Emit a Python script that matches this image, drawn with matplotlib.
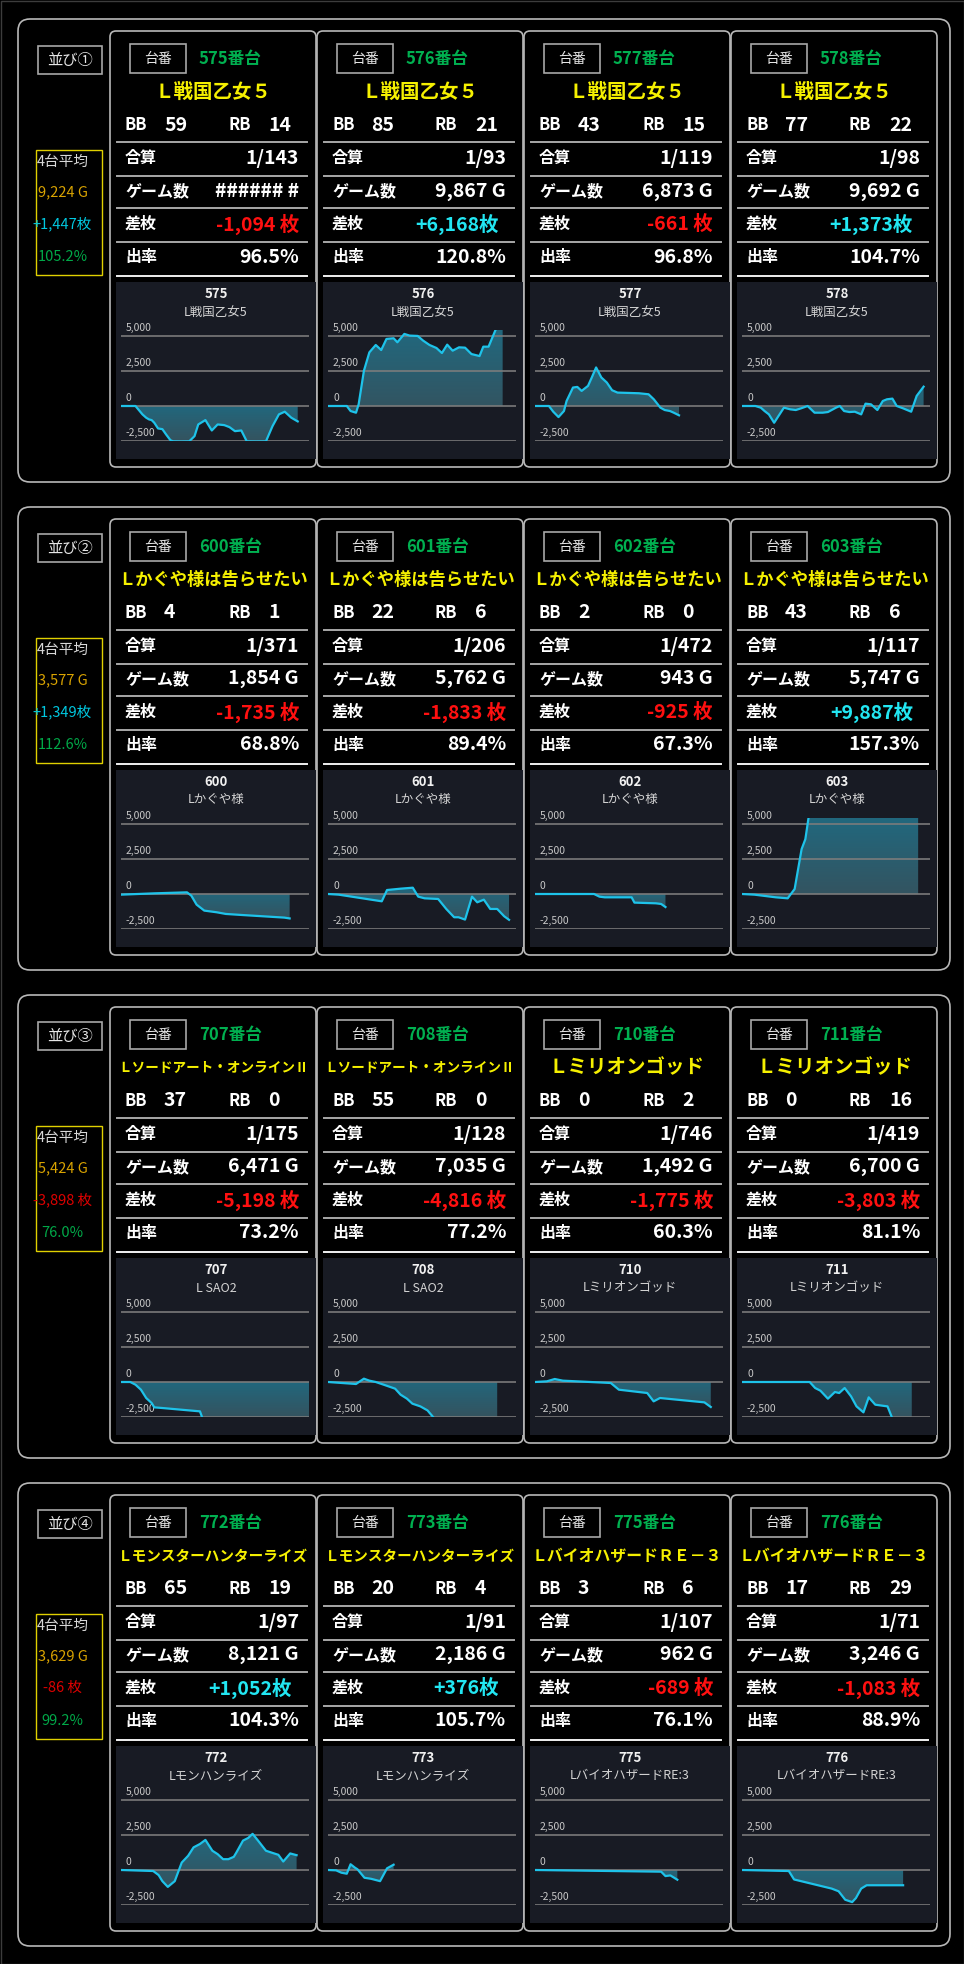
import numpy as np
import matplotlib
matplotlib.use('Agg')
import matplotlib.pyplot as plt
from matplotlib.patches import FancyBboxPatch, Rectangle, Polygon
from matplotlib.colors import LinearSegmentedColormap

plt.rcParams['font.family'] = ['Noto Sans CJK JP', 'DejaVu Sans']

# ---- data ----
group_labels = ['並び①', '並び②', '並び③', '並び④']
machine_no = [[575, 576, 577, 578], [600, 601, 602, 603],
              [707, 708, 710, 711], [772, 773, 775, 776]]
titles = [['Ｌ戦国乙女５'] * 4,
          ['Ｌかぐや様は告らせたい'] * 4,
          ['Ｌソードアート・オンラインⅡ'] * 2 + ['Ｌミリオンゴッド'] * 2,
          ['Ｌモンスターハンターライズ'] * 2 + ['ＬバイオハザードＲＥ－３'] * 2]
chart_names = [['L戦国乙女5'] * 4,
               ['Lかぐや様'] * 4,
               ['L SAO2'] * 2 + ['Lミリオンゴッド'] * 2,
               ['Lモンハンライズ'] * 2 + ['LバイオハザードRE:3'] * 2]
bb = [[59, 85, 43, 77], [4, 22, 2, 43], [37, 55, 0, 0], [65, 20, 3, 17]]
rb = [[14, 21, 15, 22], [1, 6, 0, 6], [0, 0, 2, 16], [19, 4, 6, 29]]
gousan = [[143, 93, 119, 98], [371, 206, 472, 117],
          [175, 128, 746, 419], [97, 91, 107, 71]]
games = [[None, 9867, 6873, 9692], [1854, 5762, 943, 5747],
         [6471, 7035, 1492, 6700], [8121, 2186, 962, 3246]]
samai = [[-1094, 6168, -661, 1373], [-1735, -1833, -925, 9887],
         [-5198, -4816, -1775, -3803], [1052, 376, -689, -1083]]
rate = [[96.5, 120.8, 96.8, 104.7], [68.8, 89.4, 67.3, 157.3],
        [73.2, 77.2, 60.3, 81.1], [104.3, 105.7, 76.1, 88.9]]
avg_games = [9224, 3577, 5424, 3629]
avg_samai = [1447, 1349, -3898, -86]
avg_rate = [105.2, 112.6, 76.0, 99.2]

# slump graphs: progress (0-100) / difference in medals
x575 = [0, 7.7, 11.4, 13.4, 14.9, 16.3, 17.7, 19.7, 22, 24, 26.3, 27.7, 32, 36.3, 39.1, 41.1, 44.9,
        48.3, 51.4, 54.9, 57.7, 60.6, 64, 66.9, 72, 77.1, 80.6, 84, 87.1, 90.6, 94]
y575 = [0, 0, -595, -833, -952, -1000, -1190, -1595, -1643, -2024, -2430, -2510, -2520, -2510, -2143,
        -1310, -1000, -1738, -1310, -1357, -1500, -1786, -1738, -2510, -2520, -2510, -1428, -595, -405,
        -833, -1094]
x576 = [0, 10, 12, 14.9, 16.3, 19.1, 22, 25.4, 28.3, 31.1, 34.9, 36.9, 40.6, 43.4, 47.7, 50.6, 54,
        57.7, 60.6, 63.4, 66.3, 69.7, 72.9, 76.3, 80.6, 82.6, 85.4, 89.1, 92.9]
y576 = [0, 0, -357, -476, 119, 2500, 3810, 4333, 3976, 4762, 4810, 4524, 5119, 5000, 4976, 4643,
        4333, 4119, 3762, 4357, 3929, 4167, 4143, 3690, 3548, 4214, 4214, 5400, 6168]
x577 = [0, 7.4, 9.7, 12.5, 15.4, 16.8, 20.2, 22.5, 24.8, 28.2, 30.2, 32.5, 35.3, 38.2, 41, 43.9,
        49.6, 55.3, 60.4, 63.2, 66.7, 69, 71.8, 73.8, 76.6]
y577 = [0, 0, -405, -786, -357, 357, 1310, 1357, 1071, 1429, 2024, 2738, 2024, 1667, 1119, 952,
        929, 905, 833, 476, -119, -286, -357, -476, -661]
x578 = [0, 7.1, 10, 12, 14.3, 17.1, 19.4, 22.3, 25.7, 28.6, 31.4, 34.9, 38.6, 42.9, 45.7, 50, 52,
        54.3, 57.1, 60, 63.4, 65.7, 68.6, 72, 74.9, 77.1, 80, 82.3, 85.7, 90, 92.9, 96.6]
y578 = [0, 0, -119, -357, -595, -1190, -714, -119, -238, -286, -167, 0, -476, -476, -429, -119, 0,
        -357, -429, -405, -595, 167, 119, -286, 357, 476, 524, 0, -167, -405, 714, 1373]
x600 = [0, 17.8, 35.1, 37.4, 40.2, 44.3, 50.9, 55.7, 63.8, 75.3, 86.8, 89.7]
y600 = [-47, 47, 118, -118, -755, -1180, -1298, -1416, -1487, -1581, -1676, -1735]
x601 = [0, 5.7, 28.6, 31.4, 38.6, 45.1, 48, 51.4, 58.6, 62.9, 67.1, 69.4, 72.9, 76.6, 79.4, 82.9,
        86.3, 90, 93.7, 96.3]
y601 = [0, -47, -519, 283, 378, 448, -189, -307, -354, -1062, -1652, -1652, -1817, -189, -590,
        -401, -1062, -1062, -1581, -1833]
x602 = [0, 31.4, 34.3, 37.1, 51.4, 52.9, 64.3, 67.1, 69.4]
y602 = [0, 0, -189, -236, -236, -613, -661, -708, -925]
x603 = [0, 6.6, 18, 24.3, 28, 31.7, 33.7, 36.6, 50, 70, 93.7]
y603 = [0, -47, -236, -307, 354, 3186, 3894, 6500, 7800, 8900, 9887]
x707 = [0, 4.9, 7.7, 10.6, 13.4, 16.3, 17.7, 22, 32, 42, 43.4, 60, 80, 100]
y707 = [0, 0, -190, -545, -1137, -1493, -1801, -1848, -1967, -2085, -2600, -3500, -4500, -5198]
x708 = [0, 14.9, 19.1, 22, 25.4, 30.6, 35.7, 38.6, 42, 44.9, 49.1, 52.9, 56.3, 70, 90]
y708 = [0, -142, 237, 95, 0, -237, -474, -900, -1185, -1540, -1730, -2015, -2550, -3500, -4816]
x710 = [0, 6.3, 10.5, 14.8, 40.3, 44.6, 59.7, 63.1, 66.5, 90.1, 93.5]
y710 = [0, 47, 213, 95, -71, -545, -782, -1375, -1137, -1446, -1775]
x711 = [0, 36, 38.9, 41.7, 45.7, 49.4, 51.7, 54.6, 58, 60.9, 64.6, 67.4, 70.9, 76, 77.4, 80, 85, 90.3]
y711 = [0, 0, -427, -616, -1185, -711, -782, -427, -1019, -1730, -2156, -1090, -1612, -1707,
        -1730, -2600, -3300, -3803]
x772 = [0, 17.1, 20, 22, 24.9, 28.6, 32.3, 35.7, 38.6, 42, 44.9, 48.6, 51.4, 54.3, 57.1, 60, 61.4,
        64.9, 67.7, 70, 72.9, 77.1, 80.9, 83.7, 86.3, 90, 93.4]
y772 = [0, -72, -360, -792, -1200, -792, 528, 1008, 1608, 1848, 2136, 1368, 1128, 768, 768, 936,
        1248, 2088, 2280, 2568, 2088, 1368, 1200, 1080, 600, 1176, 1052]
x773 = [0, 4.3, 7.1, 10, 12, 14.3, 15.7, 19.4, 22.9, 27.7, 31.4, 34.9]
y773 = [0, -24, -192, -264, 408, 168, 48, -552, -624, -792, 120, 376]
x775 = [0, 67.1, 69.4, 72, 75.7]
y775 = [0, -120, -432, -384, -689]
x776 = [0, 24.9, 27.7, 47.7, 51.4, 54.9, 58.6, 60.6, 63.4, 66.3, 85.7]
y776 = [0, -72, -672, -1320, -1512, -2112, -2280, -1992, -1320, -1083, -1083]

slumps = {575: (x575, y575), 576: (x576, y576), 577: (x577, y577), 578: (x578, y578),
          600: (x600, y600), 601: (x601, y601), 602: (x602, y602), 603: (x603, y603),
          707: (x707, y707), 708: (x708, y708), 710: (x710, y710), 711: (x711, y711),
          772: (x772, y772), 773: (x773, y773), 775: (x775, y775), 776: (x776, y776)}

# ---- layout ----
W, H = 964, 1964
GROUP_TOP = [19, 507, 995, 1483]
CARD_LEFT = [110, 317, 524, 731]
CARD_W = 207
YMIN, YMAX = -2500, 5380
K = 35.2 / 2500          # px per medal
TICKS = [5000, 2500, 0, -2500]

GREEN = '#00b050'
RED = '#ff1010'
CYAN = '#22e6f2'
YELLOW = '#f5f000'
BORDER = '#b8b8b8'

fig = plt.figure(figsize=(W / 100, H / 100), dpi=100, facecolor='black')
base = fig.add_axes([0, 0, 1, 1])
base.set_xlim(0, W)
base.set_ylim(H, 0)
base.axis('off')
base.add_patch(Rectangle((0.5, 0.5), W - 1, H - 1, fill=False, ec='#3c3c3c', lw=1))

cmap = LinearSegmentedColormap.from_list('slump', ['#34535f', '#21687e'])
grad = np.linspace(1, 0, 256).reshape(-1, 1)


def samai_text(v):
    if v < 0:
        return '-{:,} 枚'.format(abs(v)), RED
    return '+{:,}枚'.format(v), CYAN


def draw_slump(g, c, no):
    xs, ys = slumps[no]
    xs = np.asarray(xs, float)
    ys = np.asarray(ys, float)
    left = CARD_LEFT[c] + 11
    zero = g + 387
    top = zero - YMAX * K
    bottom = zero - YMIN * K
    ax = fig.add_axes([left / W, 1 - bottom / H, 188 / W, (bottom - top) / H])
    ax.set_facecolor('none')
    ax.axis('off')
    verts = [(xs[0], 0)] + list(zip(xs, ys)) + [(xs[-1], 0)]
    poly = Polygon(verts, closed=True, fc='none', ec='none')
    ax.add_patch(poly)
    lo = max(min(ys.min(), 0), YMIN)
    hi = min(max(ys.max(), 0), YMAX)
    im = ax.imshow(grad, cmap=cmap, aspect='auto', zorder=1,
                   extent=[xs[0], xs[-1], lo, hi])
    im.set_clip_path(poly)
    for t in TICKS:
        ax.axhline(t, color='#7c7c7c', lw=1.3, alpha=0.9, zorder=2)
    ax.plot(xs, ys, color='#1ec3ea', lw=1.6, zorder=3, solid_joinstyle='round')
    ax.set_xlim(0, 100)
    ax.set_ylim(YMIN, YMAX)


for g_i, g in enumerate(GROUP_TOP):
    # group frame
    base.add_patch(FancyBboxPatch((18, g), 932, 463, boxstyle='round,pad=0,rounding_size=12',
                                  fill=False, ec=BORDER, lw=1.2))
    base.add_patch(Rectangle((38, g + 27), 64, 28, fill=False, ec='#a8a8a8', lw=1.2))
    base.text(70, g + 41, group_labels[g_i], color='#e6e6e6', fontsize=11,
              ha='center', va='center')
    # 4-machine average
    base.add_patch(Rectangle((36, g + 131), 66, 125, fill=False, ec='#e0d000', lw=1.0))
    base.text(62.5, g + 143, '4台平均', color='#d8d8d8', fontsize=10.5, ha='center', va='center')
    base.text(62.5, g + 173, '{:,} G'.format(avg_games[g_i]), color='#d9a300', fontsize=10.5,
              ha='center', va='center')
    s_txt, s_col = samai_text(avg_samai[g_i])
    base.text(62.5, g + 205, s_txt, color='#00c8e0' if avg_samai[g_i] >= 0 else '#dd0000',
              fontsize=10.5, ha='center', va='center')
    base.text(62.5, g + 238, '{:.1f}%'.format(avg_rate[g_i]), color='#00a848', fontsize=10.5,
              ha='center', va='center')

    for c, cx in enumerate(CARD_LEFT):
        no = machine_no[g_i][c]
        base.add_patch(FancyBboxPatch((cx, g + 12), CARD_W - 1, 436,
                                      boxstyle='round,pad=0,rounding_size=6',
                                      fill=False, ec=BORDER, lw=1.2))
        # header
        base.add_patch(Rectangle((cx + 20, g + 25), 56, 29, fill=False, ec='#a8a8a8', lw=1.2))
        base.text(cx + 48, g + 40, '台番', color='#e6e6e6', fontsize=10,
                  ha='center', va='center')
        base.text(cx + 89, g + 40, '{}番台'.format(no), color=GREEN, fontsize=12,
                  fontweight='bold', ha='left', va='center')
        title = titles[g_i][c]
        fs = min(14, 190 / len(title) / 1.389)
        base.text(cx + 103, g + 73, title, color=YELLOW, fontsize=fs, fontweight='bold',
                  ha='center', va='center')
        # BB / RB
        base.text(cx + 15, g + 106, 'BB', color='white', fontsize=12, fontweight='bold',
                  ha='left', va='center')
        base.text(cx + 54, g + 106, str(bb[g_i][c]), color='white', fontsize=14,
                  fontweight='bold', ha='left', va='center')
        base.text(cx + 118, g + 106, 'RB', color='white', fontsize=12, fontweight='bold',
                  ha='left', va='center')
        base.text(cx + 158, g + 106, str(rb[g_i][c]), color='white', fontsize=14,
                  fontweight='bold', ha='left', va='center')
        # rows
        gm = games[g_i][c]
        s_txt, s_col = samai_text(samai[g_i][c])
        rows = [('合算', '1/{}'.format(gousan[g_i][c]), 'white', 189),
                ('ゲーム数', '###### #' if gm is None else '{:,} G'.format(gm), 'white', 189),
                ('差枚', s_txt, s_col, 189 if samai[g_i][c] < 0 else 182),
                ('出率', '{:.1f}%'.format(rate[g_i][c]), 'white', 189)]
        for r, (lab, val, col, rx) in enumerate(rows):
            y = g + 139 + r * 33
            base.text(cx + 15, y, lab, color='white', fontsize=11.5, fontweight='bold',
                      ha='left', va='center')
            base.text(cx + rx, y, val, color=col, fontsize=14, fontweight='bold',
                      ha='right', va='center')
        for r, ly in enumerate([123, 157, 189, 223, 257]):
            base.plot([cx + 7, cx + 197], [g + ly, g + ly],
                      color='#f0f0f0' if r == 4 else '#a8a8a8', lw=1.4)
        # chart panel
        base.add_patch(Rectangle((cx + 6, g + 263), 200, 177, color='#181b24', lw=0))
        base.text(cx + 106, g + 275, str(no), color='#f0f0f0', fontsize=9.5, fontweight='bold',
                  ha='center', va='center')
        base.text(cx + 106, g + 293, chart_names[g_i][c], color='#d4d4d4', fontsize=9,
                  ha='center', va='center')
        for t in TICKS:
            base.text(cx + 16, g + 387 - t * K - 8, '{:,}'.format(t), color='#c8c8c8',
                      fontsize=7.5, ha='left', va='center')
        draw_slump(g, c, no)

fig.savefig('out.png', dpi=100, facecolor='black')
